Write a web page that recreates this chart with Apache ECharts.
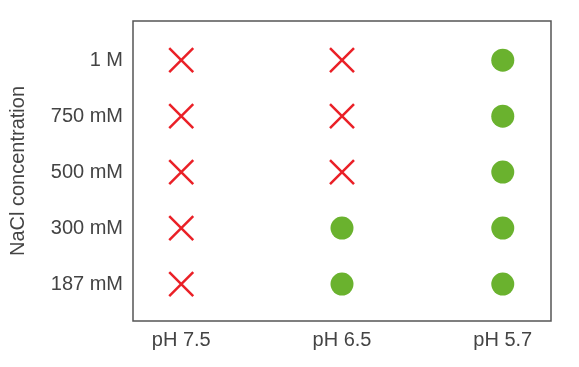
<!DOCTYPE html>
<html>
<head>
<meta charset="utf-8">
<script src="https://cdn.jsdelivr.net/npm/echarts@6/dist/echarts.min.js"></script>
<style>html,body{margin:0;padding:0;background:#fff;}#c{width:579px;height:367px;}</style>
</head>
<body>
<div id="c"></div>
<script>
// Categories
const phLabels = ['pH 7.5', 'pH 6.5', 'pH 5.7'];
const naclLabels = ['187 mM', '300 mM', '500 mM', '750 mM', '1 M']; // bottom to top
// Outcome per pH column, ordered as naclLabels: 1 = green dot, 0 = red cross
const pH75 = [0, 0, 0, 0, 0];
const pH65 = [1, 1, 0, 0, 0];
const pH57 = [1, 1, 1, 1, 1];

const columns = [pH75, pH65, pH57];
const dots = [], crosses = [];
columns.forEach((col, xi) => {
  col.forEach((v, yi) => {
    (v ? dots : crosses).push([xi, yi]);
  });
});

const chart = echarts.init(document.getElementById('c'), null, {renderer: 'canvas'});
const font = 'Liberation Sans, Arial, sans-serif';
chart.setOption({
  animation: false,
  backgroundColor: '#fff',
  grid: {
    left: 133, right: 28, top: 21, bottom: 46,
    show: true, borderColor: '#555', borderWidth: 1.5, backgroundColor: 'transparent'
  },
  xAxis: {
    type: 'value', min: -0.3, max: 2.3,
    axisLine: {show: false}, axisTick: {show: false}, splitLine: {show: false},
    axisLabel: {
      customValues: [0, 1, 2],
      formatter: v => phLabels[Math.round(v)] || '',
      fontSize: 20, color: '#444', fontFamily: font, margin: 9
    }
  },
  yAxis: {
    type: 'value', min: -0.66, max: 4.7,
    name: 'NaCl concentration', nameLocation: 'middle', nameGap: 105, nameRotate: 90,
    nameTextStyle: {fontSize: 20, color: '#444', fontFamily: font},
    axisLine: {show: false}, axisTick: {show: false}, splitLine: {show: false},
    axisLabel: {
      customValues: [0, 1, 2, 3, 4],
      formatter: v => naclLabels[Math.round(v)] || '',
      fontSize: 20, color: '#444', fontFamily: font, margin: 10
    }
  },
  series: [
    {
      type: 'scatter', data: dots, symbol: 'circle', symbolSize: 23,
      itemStyle: {color: '#6ab22e', opacity: 1}
    },
    {
      type: 'scatter', data: crosses,
      symbol: 'path://M0,0L10,10M10,0L0,10', symbolSize: 24,
      itemStyle: {color: 'transparent', borderColor: '#ea2027', borderWidth: 2.5, opacity: 1}
    }
  ]
});
</script>
</body>
</html>
